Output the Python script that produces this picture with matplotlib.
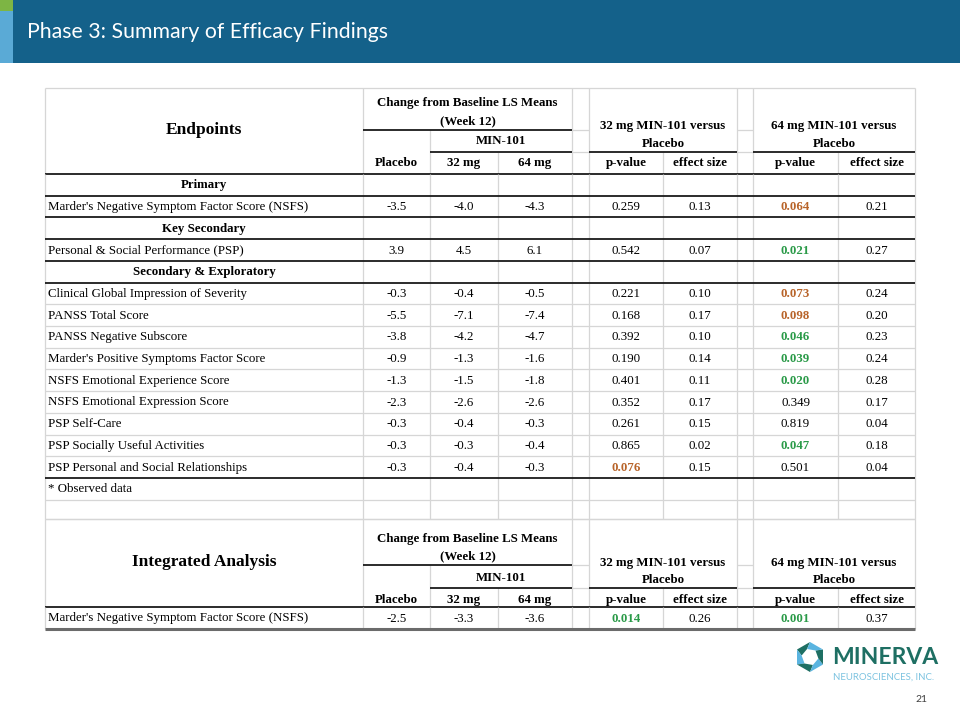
import numpy as np
import matplotlib.pyplot as plt
from matplotlib.patches import Rectangle, Polygon

## Table data

labels = ["Marder's Negative Symptom Factor Score (NSFS)",
          "Personal & Social Performance (PSP)",
          "Clinical Global Impression of Severity",
          "PANSS Total Score",
          "PANSS Negative Subscore",
          "Marder's Positive Symptoms Factor Score",
          "NSFS Emotional Experience Score",
          "NSFS Emotional Expression Score",
          "PSP Self-Care",
          "PSP Socially Useful Activities",
          "PSP Personal and Social Relationships"]
sections = {0: "Primary", 1: "Key Secondary", 2: "Secondary & Exploratory"}

placebo = [-3.5, 3.9, -0.3, -5.5, -3.8, -0.9, -1.3, -2.3, -0.3, -0.3, -0.3]
mg32 = [-4.0, 4.5, -0.4, -7.1, -4.2, -1.3, -1.5, -2.6, -0.4, -0.3, -0.4]
mg64 = [-4.3, 6.1, -0.5, -7.4, -4.7, -1.6, -1.8, -2.6, -0.3, -0.4, -0.3]
p32 = [0.259, 0.542, 0.221, 0.168, 0.392, 0.190, 0.401, 0.352, 0.261, 0.865, 0.076]
es32 = [0.13, 0.07, 0.10, 0.17, 0.10, 0.14, 0.11, 0.17, 0.15, 0.02, 0.15]
p64 = [0.064, 0.021, 0.073, 0.098, 0.046, 0.039, 0.020, 0.349, 0.819, 0.047, 0.501]
es64 = [0.21, 0.27, 0.24, 0.20, 0.23, 0.24, 0.28, 0.17, 0.04, 0.18, 0.04]

int_label = "Marder's Negative Symptom Factor Score (NSFS)"
int_values = [-2.5, -3.3, -3.6]
int_p = [0.014, 0.001]
int_es = [0.26, 0.37]

title = "Phase 3: Summary of Efficacy Findings"

## Style

SERIF = "Liberation Serif"
FS = 9.3
LIGHT = "#d6d6d6"
DARK = "#1a1a1a"
GREEN = "#2a9a48"
ORANGE = "#b8642a"

xs = [45, 363, 430, 498, 572, 589, 663, 737, 753, 838, 915]
cx = [(xs[i] + xs[i + 1]) / 2 for i in range(len(xs) - 1)]

fig = plt.figure(figsize=(9.6, 7.2), dpi=100)
ax = fig.add_axes([0, 0, 1, 1])
ax.set_xlim(0, 960)
ax.set_ylim(720, 0)
ax.axis('off')


def hline(y, x0, x1, c=LIGHT, lw=0.9):
    ax.plot([x0, x1], [y, y], color=c, lw=lw, solid_capstyle='butt')


def vline(x, y0, y1, c=LIGHT, lw=0.9):
    ax.plot([x, x], [y0, y1], color=c, lw=lw, solid_capstyle='butt')


def pcolor(p):
    if p < 0.05:
        return GREEN
    if p < 0.1:
        return ORANGE
    return 'black'


def txt(x, y, s, bold=False, size=FS, ha='center', color='black'):
    ax.text(x, y, s, ha=ha, va='center', fontsize=size, family=SERIF,
            fontweight='bold' if bold else 'normal', color=color)


## Title bar

ax.add_patch(Rectangle((13, 0), 947, 63, color='#14618a', lw=0))
ax.add_patch(Rectangle((0, 11), 13, 52, color='#5aaad6', lw=0))
ax.add_patch(Rectangle((0, 0), 13, 11, color='#7db544', lw=0))
ax.text(27, 32, title, ha='left', va='center', fontsize=15.3, family='Lato', color='white')


## Header block

def header(top, u1, u2, bot, head, t_lines):
    # outer + verticals
    hline(top, xs[0], xs[-1])
    vline(xs[0], top, bot)
    vline(xs[-1], top, bot)
    for x in [xs[1], xs[4], xs[5], xs[7], xs[8]]:
        vline(x, top, bot)
    vline(xs[2], u1, bot)
    for x in [xs[3], xs[6], xs[9]]:
        vline(x, u2, bot)
    for x0, x1 in [(xs[4], xs[5]), (xs[7], xs[8])]:
        hline(u1, x0, x1)
        hline(u2, x0, x1)
    hline(u1, xs[1], xs[4], DARK, 1.3)
    hline(u2, xs[2], xs[4], DARK, 1.3)
    hline(u2, xs[5], xs[7], DARK, 1.3)
    hline(u2, xs[8], xs[10], DARK, 1.3)
    hline(bot, xs[0], xs[-1], DARK, 1.3)

    y1, y2, y3, y4, yv1, yv2 = t_lines
    txt(cx[0], (top + bot) / 2 - 1, head, bold=True, size=12.5)
    txt((xs[1] + xs[4]) / 2, y1, "Change from Baseline LS Means", bold=True)
    txt((xs[1] + xs[4]) / 2, y2, "(Week 12)", bold=True)
    txt((xs[2] + xs[4]) / 2, y3, "MIN-101", bold=True)
    for i, s in zip([1, 2, 3, 5, 6, 8, 9],
                    ["Placebo", "32 mg", "64 mg", "p-value", "effect size", "p-value", "effect size"]):
        txt(cx[i], y4, s, bold=True)
    txt((xs[5] + xs[7]) / 2, yv1, "32 mg MIN-101 versus", bold=True)
    txt((xs[5] + xs[7]) / 2, yv2, "Placebo", bold=True)
    txt((xs[8] + xs[10]) / 2, yv1, "64 mg MIN-101 versus", bold=True)
    txt((xs[8] + xs[10]) / 2, yv2, "Placebo", bold=True)


header(88, 130, 152, 174, "Endpoints", (103, 121, 141, 163, 126, 144))

## Body rows

rows = []
for i in range(len(labels)):
    if i in sections:
        rows.append(('sec', sections[i]))
    rows.append(('data', i))

y_top, y_bot = 174, 478
rh = (y_bot - y_top) / len(rows)
edges = [y_top + k * rh for k in range(len(rows) + 1)] + [500, 519]

for x in xs:
    vline(x, y_top, edges[-1])
for k, y in enumerate(edges[1:], start=1):
    dark = (k <= 5) or (k == len(rows))
    hline(y, xs[0], xs[-1], DARK if dark else LIGHT, 1.3 if dark else 0.9)

for k, (kind, v) in enumerate(rows):
    yc = edges[k] + rh / 2 + 0.5
    if kind == 'sec':
        txt(cx[0], yc, v, bold=True)
        continue
    i = v
    txt(48, yc, labels[i], ha='left')
    txt(cx[1], yc, f"{placebo[i]:.1f}")
    txt(cx[2], yc, f"{mg32[i]:.1f}")
    txt(cx[3], yc, f"{mg64[i]:.1f}")
    txt(cx[5], yc, f"{p32[i]:.3f}", bold=p32[i] < 0.1, color=pcolor(p32[i]))
    txt(cx[6], yc, f"{es32[i]:.2f}")
    txt(cx[8], yc, f"{p64[i]:.3f}", bold=p64[i] < 0.1, color=pcolor(p64[i]))
    txt(cx[9], yc, f"{es64[i]:.2f}")

txt(48, (edges[-3] + edges[-2]) / 2 + 0.5, "* Observed data", ha='left')

## Integrated analysis

header(519, 565, 588, 607, "Integrated Analysis", (539, 556, 578, 600, 563, 580))
for x in xs:
    vline(x, 607, 629)
yc = 618.5
txt(48, yc, int_label, ha='left')
for i, v in zip([1, 2, 3], int_values):
    txt(cx[i], yc, f"{v:.1f}")
for i, p in zip([5, 8], int_p):
    txt(cx[i], yc, f"{p:.3f}", bold=p < 0.1, color=pcolor(p))
for i, e in zip([6, 9], int_es):
    txt(cx[i], yc, f"{e:.2f}")
hline(629, xs[0], xs[-1], '#6b6b6b', 2.2)

## Logo

c0 = np.array([810, 657])
ang = np.deg2rad(np.arange(6) * 60 + 90)
outer = np.c_[np.cos(ang), -np.sin(ang)] * 15
inner = np.c_[np.cos(ang + 0.35), -np.sin(ang + 0.35)] * 8.5
for k in range(6):
    pts = [outer[k], outer[(k + 1) % 6], inner[(k + 1) % 6], inner[k]]
    ax.add_patch(Polygon(np.array(pts) + c0, closed=True, lw=0,
                         color='#1e6f63' if k % 2 == 0 else '#5ab4e0'))
ax.text(832, 658, "MINERVA", ha='left', va='center', fontsize=16.5, family='Lato',
        fontweight='bold', color='#1e6f63')
ax.text(833, 677, "NEUROSCIENCES, INC.", ha='left', va='center', fontsize=6.9,
        family='Lato', color='#7cc3e0')
ax.text(921, 700, "21", ha='center', va='center', fontsize=7.5, family='Lato', color='#404040')

fig.savefig('out.png', dpi=100)
